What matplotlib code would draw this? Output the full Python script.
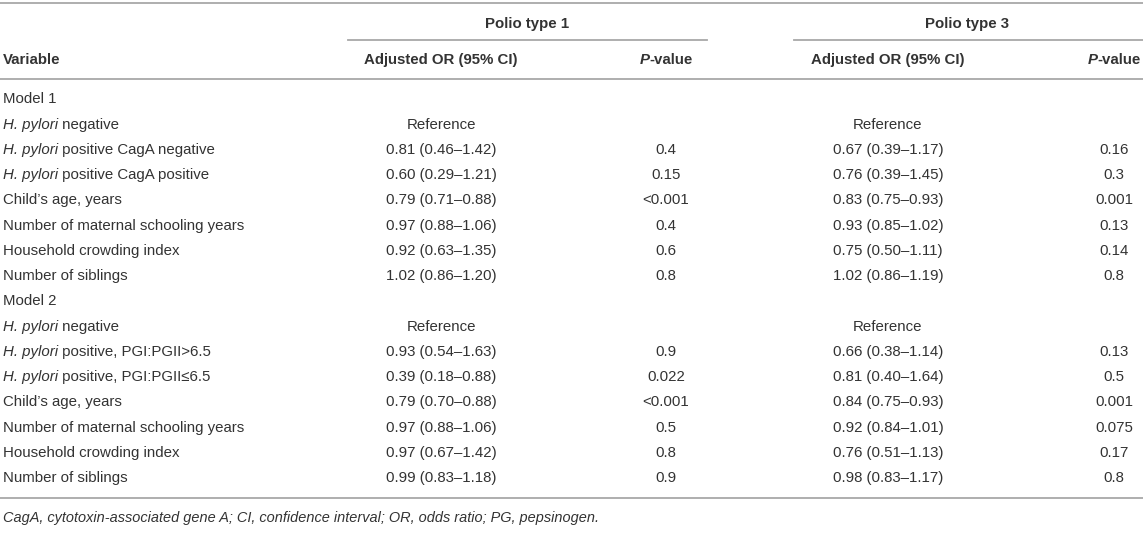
import matplotlib
matplotlib.use("Agg")
import matplotlib.pyplot as plt

# table contents
variables = [
    ("", "Model 1"),
    ("H. pylori", " negative"),
    ("H. pylori", " positive CagA negative"),
    ("H. pylori", " positive CagA positive"),
    ("", "Child\u2019s age, years"),
    ("", "Number of maternal schooling years"),
    ("", "Household crowding index"),
    ("", "Number of siblings"),
    ("", "Model 2"),
    ("H. pylori", " negative"),
    ("H. pylori", " positive, PGI:PGII>6.5"),
    ("H. pylori", " positive, PGI:PGII\u22646.5"),
    ("", "Child\u2019s age, years"),
    ("", "Number of maternal schooling years"),
    ("", "Household crowding index"),
    ("", "Number of siblings"),
]
or_type1 = ["", "Reference", "0.81 (0.46\u20131.42)", "0.60 (0.29\u20131.21)", "0.79 (0.71\u20130.88)",
            "0.97 (0.88\u20131.06)", "0.92 (0.63\u20131.35)", "1.02 (0.86\u20131.20)",
            "", "Reference", "0.93 (0.54\u20131.63)", "0.39 (0.18\u20130.88)", "0.79 (0.70\u20130.88)",
            "0.97 (0.88\u20131.06)", "0.97 (0.67\u20131.42)", "0.99 (0.83\u20131.18)"]
p_type1 = ["", "", "0.4", "0.15", "<0.001", "0.4", "0.6", "0.8",
           "", "", "0.9", "0.022", "<0.001", "0.5", "0.8", "0.9"]
or_type3 = ["", "Reference", "0.67 (0.39\u20131.17)", "0.76 (0.39\u20131.45)", "0.83 (0.75\u20130.93)",
            "0.93 (0.85\u20131.02)", "0.75 (0.50\u20131.11)", "1.02 (0.86\u20131.19)",
            "", "Reference", "0.66 (0.38\u20131.14)", "0.81 (0.40\u20131.64)", "0.84 (0.75\u20130.93)",
            "0.92 (0.84\u20131.01)", "0.76 (0.51\u20131.13)", "0.98 (0.83\u20131.17)"]
p_type3 = ["", "", "0.16", "0.3", "0.001", "0.13", "0.14", "0.8",
           "", "", "0.13", "0.5", "0.001", "0.075", "0.17", "0.8"]
footnote = "CagA, cytotoxin-associated gene A; CI, confidence interval; OR, odds ratio; PG, pepsinogen."

plt.rcParams["font.family"] = ["Liberation Sans", "DejaVu Sans"]
txt_color = "#333333"
line_color = "#a8a8a8"
fs = 10.8
base = 5.3  # baseline offset from row centre, px

fig = plt.figure(figsize=(11.43, 5.48), dpi=100)
ax = fig.add_axes([0, 0, 1, 1])
ax.set_xlim(0, 1143)
ax.set_ylim(548, 0)
ax.axis("off")
renderer = fig.canvas.get_renderer()


def put(x, y, s, ha="center", size=fs, **kw):
    return ax.text(x, y + base, s, fontsize=size, color=txt_color, ha=ha, va="baseline", **kw)


def runs(x, y, parts, ha="left"):
    # parts: list of (text, style, weight); draws them side by side
    objs = []
    widths = []
    for s, style, weight in parts:
        t = put(0, y, s, ha="left", style=style, weight=weight)
        bb = t.get_window_extent(renderer)
        objs.append(t)
        widths.append(bb.width)
    total = sum(widths)
    if ha == "center":
        x0 = x - total / 2
    elif ha == "right":
        x0 = x - total
    else:
        x0 = x
    for t, w in zip(objs, widths):
        t.set_x(x0)
        x0 += w


# column centres
x_var = 3
x_or1, x_p1 = 441, 666
x_or3, x_p3 = 888, 1114

# rules
ax.plot([0, 1143], [3, 3], color=line_color, lw=1.3)
ax.plot([348, 707], [39.5, 39.5], color=line_color, lw=1.3)
ax.plot([794, 1143], [39.5, 39.5], color=line_color, lw=1.3)
ax.plot([0, 1143], [79, 79], color=line_color, lw=1.3)
ax.plot([0, 1143], [498, 498], color=line_color, lw=1.3)

# headers
put(527, 23, "Polio type 1", weight="bold")
put(967, 23, "Polio type 3", weight="bold")
put(x_var, 59, "Variable", ha="left", weight="bold")
put(x_or1, 59, "Adjusted OR (95% CI)", weight="bold")
put(x_or3, 59, "Adjusted OR (95% CI)", weight="bold")
runs(x_p1, 59, [("P", "italic", "bold"), ("-value", "normal", "bold")], ha="center")
runs(1141, 59, [("P", "italic", "bold"), ("-value", "normal", "bold")], ha="right")

# body
row_y0, row_step = 98, 25.25
for i, (ital, rest) in enumerate(variables):
    y = row_y0 + i * row_step
    parts = []
    if ital:
        parts.append((ital, "italic", "normal"))
    parts.append((rest, "normal", "normal"))
    runs(x_var, y, parts)
    put(x_or1, y, or_type1[i])
    put(x_p1, y, p_type1[i])
    put(x_or3, y, or_type3[i])
    put(x_p3, y, p_type3[i])

put(x_var, 517, footnote, ha="left", style="italic", size=fs * 0.965)

plt.savefig("out.png", dpi=100)
